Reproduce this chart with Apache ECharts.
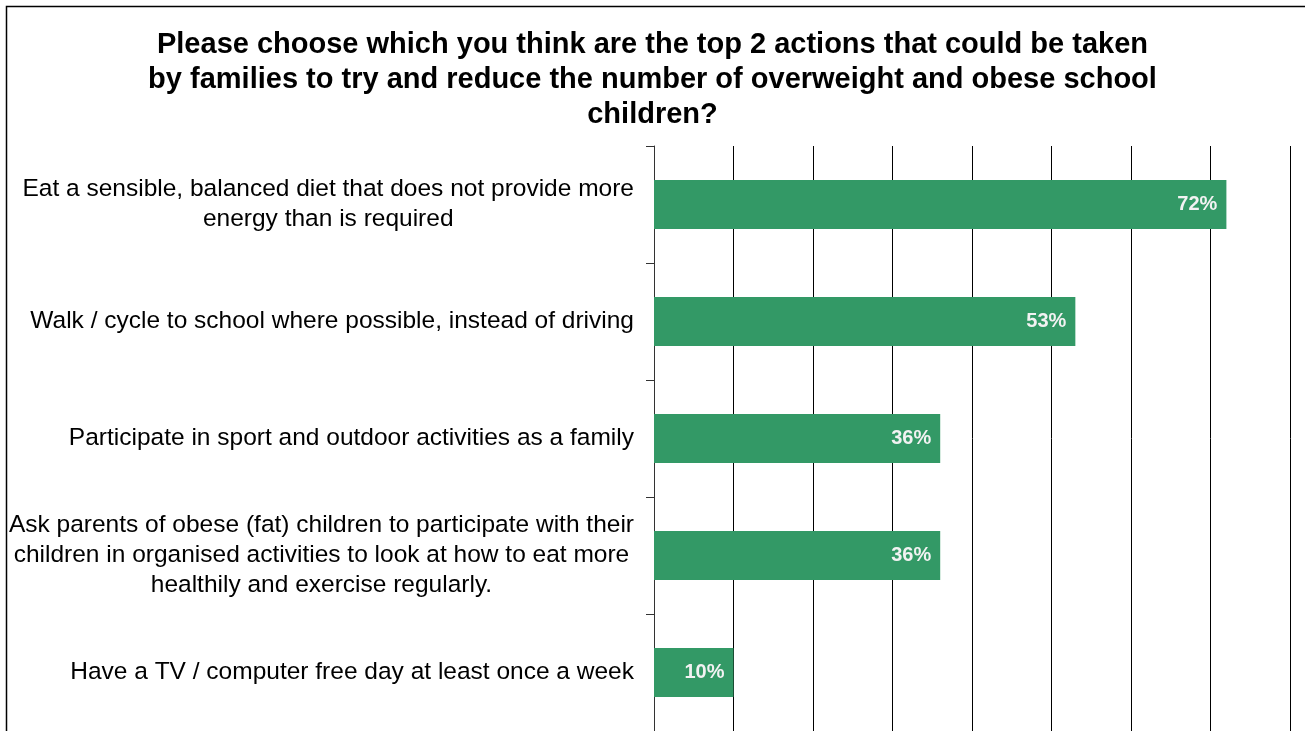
<!DOCTYPE html>
<html>
<head>
<meta charset="utf-8">
<script src="https://cdn.jsdelivr.net/npm/echarts@6/dist/echarts.min.js"></script>
<style>
  html, body { margin: 0; padding: 0; background: #fff; }
  #chart { width: 1305px; height: 731px; }
</style>
</head>
<body>
<div id="chart"></div>
<script>
// Survey answers (top to bottom) and share of respondents choosing each, in %
const titleText = 'Please choose which you think are the top 2 actions that could be taken\nby families to try and reduce the number of overweight and obese school\nchildren?';
const categories = [
  'Eat a sensible, balanced diet that does not provide more\nenergy than is required',
  'Walk / cycle to school where possible, instead of driving',
  'Participate in sport and outdoor activities as a family',
  'Ask parents of obese (fat) children to participate with their\nchildren in organised activities to look at how to eat more\nhealthily and exercise regularly.',
  'Have a TV / computer free day at least once a week'
];
const values = [72, 53, 36, 36, 10];
const axisMax = 80;
const axisStep = 10;

const FONT = 'Liberation Sans, Arial, sans-serif';
const chart = echarts.init(document.getElementById('chart'));

chart.setOption({
  animation: false,
  backgroundColor: '#ffffff',
  textStyle: { fontFamily: FONT },
  title: {
    text: titleText,
    left: 'center',
    top: 27,
    padding: [0, 0, 0, 11],
    textStyle: {
      fontFamily: FONT,
      fontSize: 29,
      fontWeight: 'bold',
      color: '#000',
      lineHeight: 35
    }
  },
  graphic: [{
    type: 'rect',
    silent: true,
    shape: { x: 6.5, y: 6.5, width: 1320, height: 760 },
    style: { fill: 'none', stroke: '#000', lineWidth: 1.5 }
  }],
  grid: { left: 654, right: 15, top: 146, bottom: 0, containLabel: false },
  xAxis: {
    type: 'value',
    min: 0,
    max: axisMax,
    interval: axisStep,
    axisLabel: { show: false },
    axisTick: { show: false },
    axisLine: { show: false },
    splitLine: { show: true, lineStyle: { color: '#000', width: 1 } }
  },
  yAxis: {
    type: 'category',
    inverse: true,
    data: categories,
    axisLine: { show: true, lineStyle: { color: '#333', width: 1 } },
    axisTick: { show: true, length: 8, inside: false, lineStyle: { color: '#333' } },
    axisLabel: {
      margin: 20,
      align: 'right',
      fontSize: 24.5,
      color: '#000',
      lineHeight: 30,
      formatter: function (v) {
        return v.split('\n').map(function (l) { return '{c|' + l + '}'; }).join('\n');
      },
      rich: {
        c: { align: 'center', fontSize: 24.5, lineHeight: 30, color: '#000', fontFamily: FONT }
      }
    }
  },
  series: [{
    type: 'bar',
    data: values,
    barWidth: '42%',
    itemStyle: { color: '#339966' },
    label: {
      show: true,
      position: 'insideRight',
      distance: 9,
      formatter: '{c}%',
      color: '#f2f2f2',
      fontSize: 20,
      fontWeight: 'bold',
      fontFamily: FONT
    }
  }]
});
</script>
</body>
</html>
